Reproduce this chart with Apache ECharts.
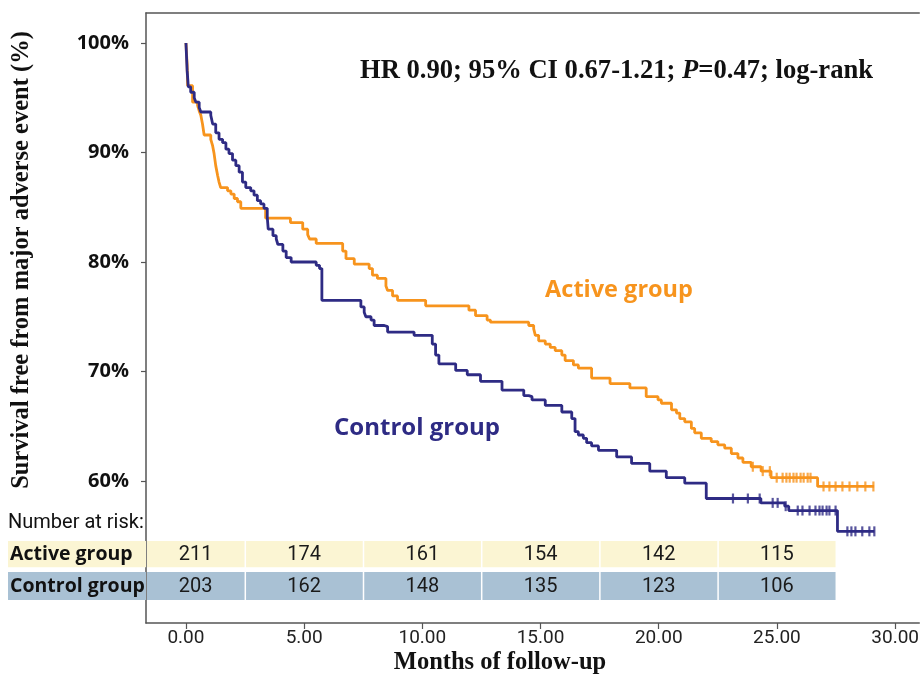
<!DOCTYPE html>
<html><head><meta charset="utf-8">
<script src="https://cdn.jsdelivr.net/npm/echarts@6/dist/echarts.min.js"></script>
<style>html,body{margin:0;padding:0;background:#fff}#c{width:922px;height:676px}</style>
</head><body><div id="c"></div>
<script>
// ---- data ----
const xTicks = [0, 5, 10, 15, 20, 25, 30];
const yTicks = [60, 70, 80, 90, 100];

const activeT = [0, 0.05, 0.07, 0.28, 0.49, 0.56, 0.63, 0.70, 0.77, 1.05, 1.13, 1.19, 1.26, 1.34, 1.40, 1.47, 1.76, 1.90, 2.04, 2.18, 2.32, 3.37, 4.42, 4.94, 5.15, 5.23, 5.51, 6.63, 6.77, 7.12, 7.75, 7.89, 8.10, 8.46, 8.53, 8.74, 8.95, 10.14, 11.97, 12.25, 12.74, 12.88, 14.50, 14.71, 14.78, 14.92, 15.20, 15.41, 15.62, 15.90, 16.04, 16.39, 16.60, 17.16, 17.94, 18.78, 19.47, 19.97, 20.11, 20.54, 20.75, 20.89, 21.10, 21.38, 21.52, 21.80, 22.22, 22.50, 22.79, 23.07, 23.35, 23.56, 23.91, 24.33, 24.75, 26.72, 29.11];
const activeS = [100, 98.0, 96.1, 94.6, 94.3, 93.8, 93.4, 92.6, 91.6, 91.2, 90.6, 89.9, 88.8, 87.9, 87.3, 86.8, 86.5, 86.2, 85.8, 85.5, 84.9, 84.0, 83.6, 83.0, 82.5, 82.1, 81.7, 81.0, 80.3, 79.8, 79.4, 78.8, 78.5, 77.8, 77.4, 76.9, 76.5, 76.0, 75.6, 75.1, 74.7, 74.5, 74.2, 73.9, 73.3, 72.8, 72.5, 72.2, 71.9, 71.5, 71.0, 70.6, 70.3, 69.4, 68.9, 68.5, 67.7, 67.4, 67.1, 66.5, 66.2, 65.7, 65.4, 64.8, 64.4, 63.9, 63.6, 63.3, 63.0, 62.5, 62.1, 61.7, 61.3, 60.9, 60.3, 59.5, 59.5];

const controlT = [0, 0.05, 0.1, 0.2, 0.35, 0.42, 0.56, 0.63, 1.05, 1.13, 1.26, 1.40, 1.55, 1.69, 1.82, 1.97, 2.11, 2.25, 2.39, 2.53, 2.74, 2.88, 3.02, 3.16, 3.30, 3.44, 3.48, 3.68, 3.82, 3.89, 4.10, 4.24, 4.45, 5.51, 5.65, 5.75, 7.40, 7.54, 7.61, 7.83, 7.96, 8.39, 8.53, 9.65, 10.42, 10.56, 10.70, 11.41, 11.90, 12.46, 13.37, 14.29, 14.50, 14.64, 15.20, 15.90, 16.32, 16.46, 16.60, 16.81, 16.95, 17.16, 17.45, 18.22, 18.85, 19.62, 20.32, 21.10, 22.01, 24.32, 25.33, 25.50, 27.56, 29.12];
const controlS = [100, 97.5, 96.0, 95.5, 95.0, 94.6, 94.1, 93.7, 93.4, 92.6, 91.8, 91.2, 90.9, 90.3, 89.9, 89.3, 88.8, 88.2, 87.3, 86.8, 86.5, 86.1, 85.6, 85.3, 84.9, 84.1, 83.0, 82.4, 82.1, 81.6, 81.0, 80.4, 80.0, 79.7, 79.4, 76.5, 75.9, 75.4, 75.0, 74.7, 74.2, 74.1, 73.6, 73.3, 72.5, 71.5, 70.7, 70.1, 69.7, 69.1, 68.3, 67.8, 67.7, 67.4, 66.9, 66.3, 65.7, 64.5, 64.2, 63.9, 63.5, 63.2, 62.8, 62.2, 61.6, 60.9, 60.3, 59.8, 58.4, 58.0, 57.7, 57.3, 55.4, 55.4];

const activeCensorT = [23.98, 24.40, 24.70, 24.99, 25.24, 25.40, 25.54, 25.70, 25.83, 26.00, 26.13, 26.30, 26.42, 26.97, 27.22, 27.48, 27.77, 28.07, 28.40, 28.74, 29.08];
const controlCensorT = [23.14, 23.77, 24.27, 24.82, 25.03, 25.37, 25.88, 26.08, 26.38, 26.63, 26.80, 26.93, 27.10, 27.22, 27.48, 27.98, 28.15, 28.32, 28.61, 28.91, 29.12];

const riskTimes = [0, 5, 10, 15, 20, 25];
const riskActive = [211, 174, 161, 154, 142, 115];
const riskControl = [203, 162, 148, 135, 123, 106];
const groupNames = ['Active group', 'Control group'];

// ---- build ----
const X_MIN = -1.69, X_MAX = 31.02, Y_MIN = 47.03, Y_MAX = 102.74;
const ORANGE = '#F7941D', NAVY = '#2E2B84';
const zip = (a, b) => a.map((v, i) => [v, b[i]]);
function stepAt(T, S, t) { let v = S[0]; for (let i = 0; i < T.length; i++) { if (T[i] <= t) v = S[i]; } return v; }

const riskData = [];
riskTimes.forEach((t, i) => { riskData.push([t, 0, riskActive[i]]); riskData.push([t, 1, riskControl[i]]); });

const rowBands = [[54.52, 52.12], [51.68, 49.12]];
const rowFill = ['#FBF5D3', '#A9C1D4'];

function renderRisk(params, api) {
  const t = api.value(0), row = api.value(1), v = api.value(2);
  const gl = api.coord([X_MIN, 0])[0];
  const xa = (t === riskTimes[0]) ? gl : api.coord([t - 2.5, 0])[0];
  const xb = api.coord([t + 2.5, 0])[0];
  const y0 = api.coord([0, rowBands[row][0]])[1];
  const y1 = api.coord([0, rowBands[row][1]])[1];
  const cx = (t === riskTimes[0]) ? (xa + xb) / 2 : api.coord([t, 0])[0];
  const children = [
    { type: 'rect', shape: { x: xa + 1, y: y0, width: xb - xa - 1.5, height: y1 - y0 }, style: { fill: rowFill[row] } },
    { type: 'text', style: { text: String(v), x: cx, y: (y0 + y1) / 2 + 1, align: 'center', verticalAlign: 'middle', font: '20px Roboto', fill: '#1a1a1a' } }
  ];
  if (t === riskTimes[0]) {
    children.push({ type: 'rect', shape: { x: 8, y: y0, width: gl - 8, height: y1 - y0 }, style: { fill: rowFill[row] } });
    children.push({ type: 'text', style: { text: groupNames[row], x: 10, y: (y0 + y1) / 2, align: 'left', verticalAlign: 'middle', font: 'bold 19.5px "Open Sans"', fill: '#111' } });
  }
  return { type: 'group', children };
}

const chart = echarts.init(document.getElementById('c'), null, { renderer: 'canvas' });
chart.setOption({
  backgroundColor: '#ffffff',
  animation: false,
  grid: { left: 146, top: 13, right: 0, bottom: 53, containLabel: false },
  xAxis: [{
    type: 'value', min: X_MIN, max: X_MAX, position: 'bottom',
    splitLine: { show: false },
    axisLine: { onZero: false, lineStyle: { color: '#555', width: 1.5 } },
    axisTick: { show: true, customValues: xTicks, length: 6, inside: false, lineStyle: { color: '#555', width: 1.2 } },
    axisLabel: { customValues: xTicks, formatter: v => v.toFixed(2), margin: 6, color: '#222', fontSize: 19, fontFamily: 'Roboto' }
  }, {
    type: 'value', min: X_MIN, max: X_MAX, position: 'top',
    splitLine: { show: false }, axisTick: { show: false }, axisLabel: { show: false },
    axisLine: { onZero: false, lineStyle: { color: '#555', width: 1.5 } }
  }],
  yAxis: {
    type: 'value', min: Y_MIN, max: Y_MAX,
    splitLine: { show: false },
    axisLine: { show: true, onZero: false, lineStyle: { color: '#555', width: 1.5 } },
    axisTick: { show: true, customValues: yTicks, length: 5, lineStyle: { color: '#555', width: 1.2 } },
    axisLabel: { customValues: yTicks, formatter: v => v + '%', margin: 17, fontSize: 20, fontWeight: 'bold', fontFamily: 'Open Sans', color: '#111' }
  },
  series: [
    { type: 'custom', name: 'risk', renderItem: renderRisk, data: riskData, clip: false, z: 1, silent: true },
    { type: 'line', name: 'Active group', step: 'end', data: zip(activeT, activeS), showSymbol: false, lineStyle: { color: ORANGE, width: 2.8 }, z: 3 },
    { type: 'line', name: 'Control group', step: 'end', data: zip(controlT, controlS), showSymbol: false, lineStyle: { color: NAVY, width: 2.8 }, z: 4 },
    { type: 'scatter', name: 'Active censored', data: activeCensorT.map(t => [t, stepAt(activeT, activeS, t)]), symbol: 'rect', symbolSize: [2.2, 10], itemStyle: { color: ORANGE }, z: 3 },
    { type: 'scatter', name: 'Control censored', data: controlCensorT.map(t => [t, stepAt(controlT, controlS, t)]), symbol: 'rect', symbolSize: [2.2, 10], itemStyle: { color: NAVY }, z: 4 }
  ],
  graphic: [
    { type: 'text', left: 360, top: 58, style: { text: '{a|HR 0.90; 95% CI 0.67-1.21; }{i|P}{a|=0.47; log-rank}', rich: { a: { font: 'bold 26.6px "Liberation Serif"', fill: '#111' }, i: { font: 'italic bold 26.6px "Liberation Serif"', fill: '#111' } } } },
    { type: 'text', x: 619, y: 290, style: { text: 'Active group', align: 'center', verticalAlign: 'middle', font: 'bold 23.5px "Open Sans"', fill: ORANGE } },
    { type: 'text', x: 417, y: 428, style: { text: 'Control group', align: 'center', verticalAlign: 'middle', font: 'bold 24px "Open Sans"', fill: NAVY } },
    { type: 'text', x: 8, y: 523, style: { text: 'Number at risk:', align: 'left', verticalAlign: 'middle', font: '20px Roboto', fill: '#111' } },
    { type: 'text', x: 500, y: 663, style: { text: 'Months of follow-up', align: 'center', verticalAlign: 'middle', font: 'bold 24.5px "Liberation Serif"', fill: '#111' } },
    { type: 'text', x: 22, y: 260, rotation: Math.PI / 2, style: { text: 'Survival free from major adverse event (%)', align: 'center', verticalAlign: 'middle', font: 'bold 24.5px "Liberation Serif"', fill: '#111' } }
  ]
});
</script></body></html>
